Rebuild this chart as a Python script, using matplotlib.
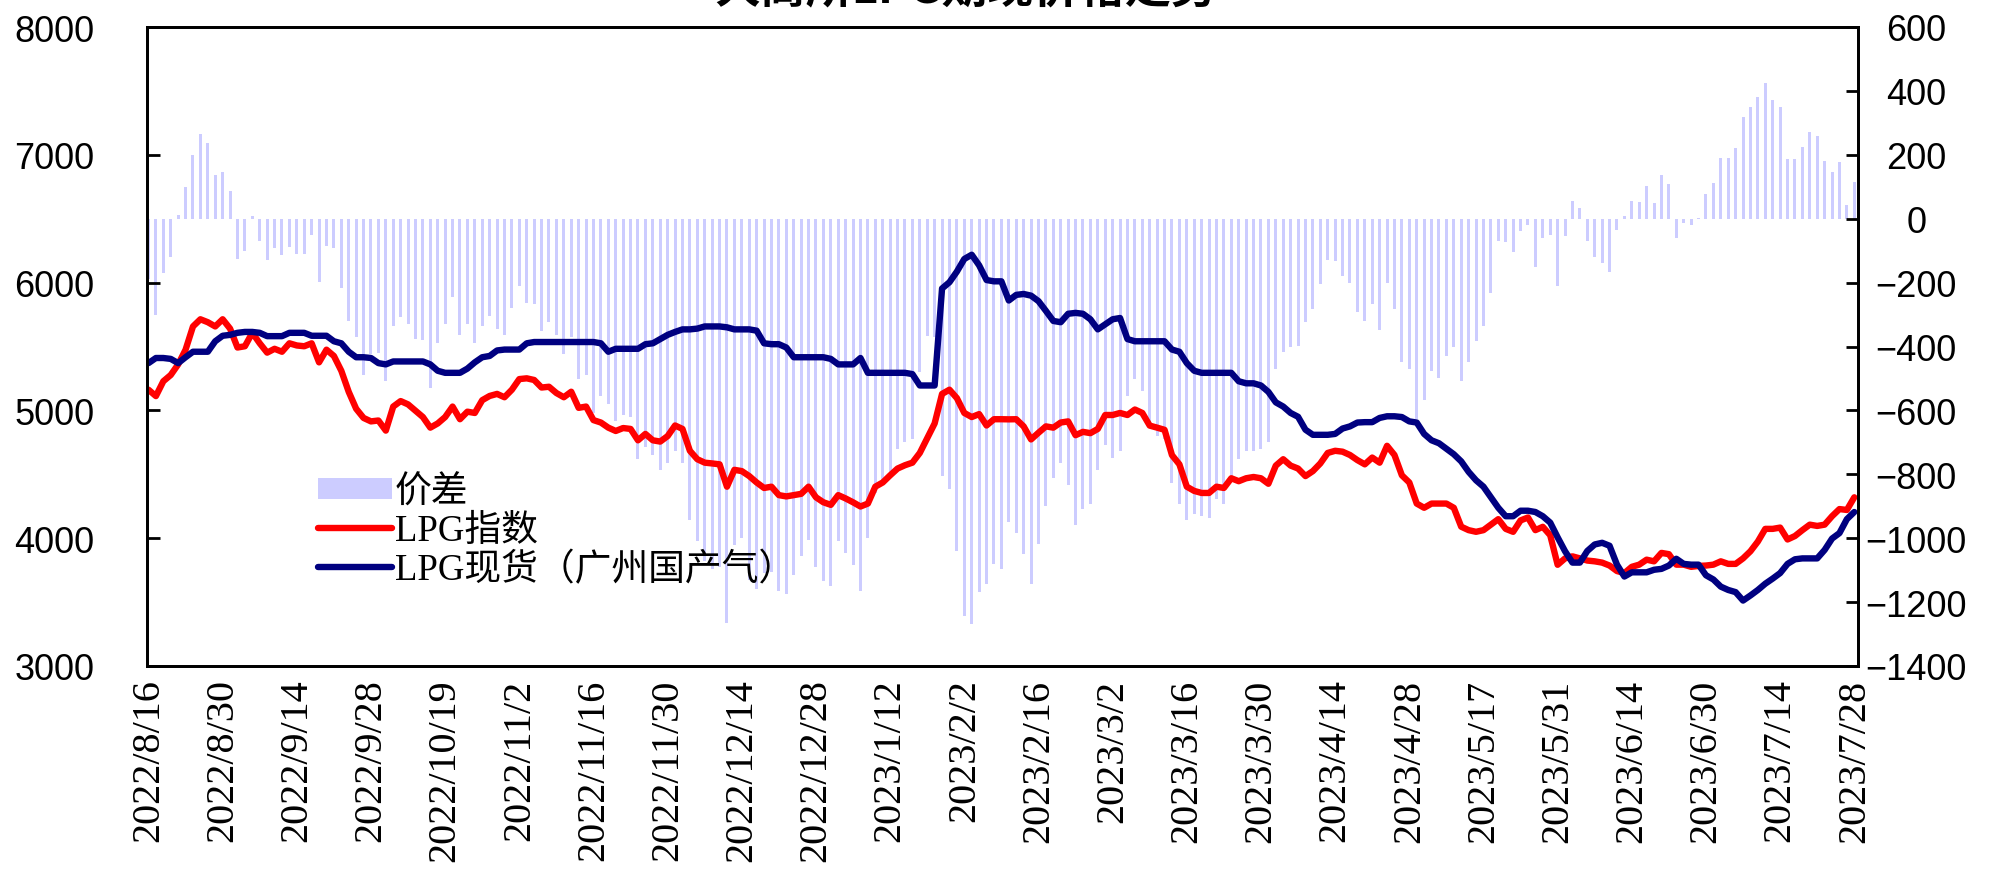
import numpy as np
import matplotlib
matplotlib.use('Agg')
import matplotlib.pyplot as plt
from matplotlib.font_manager import FontProperties

# trading-day series, 2022/8/16 .. 2023/7/28 (one value per day)
lpg_index = [
    5162, 5112, 5228, 5277, 5360, 5475, 5657, 5713, 5690, 5657,
    5713, 5640, 5492, 5502, 5607, 5525, 5452, 5482, 5459, 5525,
    5508, 5502, 5525, 5376, 5475, 5426, 5310, 5145, 5013, 4941,
    4914, 4921, 4842, 5030, 5073, 5047, 4997, 4948, 4865, 4898,
    4948, 5030, 4931, 4990, 4980, 5080, 5113, 5129, 5103, 5162,
    5245, 5251, 5238, 5179, 5185, 5136, 5103, 5146, 5020, 5030,
    4924, 4905, 4865, 4839, 4862, 4855, 4766, 4816, 4766, 4756,
    4799, 4882, 4855, 4684, 4618, 4591, 4585, 4578, 4403, 4535,
    4525, 4486, 4436, 4393, 4403, 4337, 4327, 4337, 4347, 4403,
    4320, 4281, 4261, 4337, 4311, 4281, 4248, 4271, 4403, 4436,
    4492, 4545, 4571, 4591, 4667, 4783, 4898, 5129, 5162, 5096,
    4980, 4948, 4971, 4882, 4931, 4931, 4930, 4931, 4875, 4773,
    4825, 4875, 4865, 4905, 4914, 4806, 4832, 4822, 4855, 4964,
    4964, 4980, 4964, 5007, 4980, 4881, 4865, 4848, 4650, 4578,
    4403, 4370, 4354, 4354, 4403, 4393, 4469, 4446, 4469, 4479,
    4469, 4426, 4568, 4618, 4568, 4545, 4486, 4525, 4585, 4667,
    4684, 4677, 4651, 4611, 4578, 4631, 4591, 4723, 4651, 4492,
    4436, 4271, 4238, 4271, 4271, 4271, 4238, 4090, 4063, 4050,
    4063, 4106, 4149, 4073, 4050, 4139, 4162, 4063, 4089, 4023,
    3792, 3842, 3858, 3842, 3825, 3819, 3809, 3786, 3743, 3727,
    3776, 3793, 3832, 3819, 3885, 3875, 3793, 3793, 3776, 3783,
    3786, 3793, 3819, 3799, 3799, 3842, 3898, 3974, 4073, 4073,
    4083, 3990, 4017, 4063, 4106, 4096, 4106, 4172, 4228, 4221,
    4320,
]

lpg_spot = [
    5370, 5410, 5410, 5403, 5370, 5416, 5459, 5459, 5459, 5541,
    5584, 5591, 5607, 5614, 5614, 5607, 5581, 5581, 5581, 5607,
    5607, 5607, 5584, 5584, 5584, 5541, 5525, 5459, 5416, 5416,
    5410, 5370, 5360, 5383, 5383, 5383, 5383, 5383, 5360, 5310,
    5294, 5294, 5294, 5327, 5376, 5416, 5426, 5469, 5476, 5476,
    5476, 5525, 5535, 5535, 5535, 5535, 5535, 5535, 5535, 5535,
    5535, 5525, 5459, 5482, 5482, 5482, 5482, 5518, 5525, 5558,
    5591, 5614, 5634, 5634, 5640, 5657, 5657, 5657, 5650, 5634,
    5634, 5634, 5624, 5525, 5518, 5518, 5492, 5416, 5416, 5416,
    5416, 5416, 5403, 5360, 5360, 5360, 5410, 5294, 5294, 5294,
    5294, 5294, 5294, 5284, 5195, 5195, 5195, 5954, 6003, 6086,
    6185, 6218, 6135, 6020, 6010, 6010, 5860, 5904, 5911, 5898,
    5855, 5779, 5700, 5690, 5756, 5763, 5756, 5713, 5634, 5673,
    5713, 5723, 5558, 5541, 5541, 5541, 5541, 5541, 5476, 5459,
    5370, 5310, 5294, 5294, 5294, 5294, 5294, 5228, 5212, 5212,
    5195, 5145, 5063, 5030, 4980, 4950, 4849, 4809, 4809, 4809,
    4816, 4858, 4875, 4905, 4908, 4908, 4941, 4954, 4954, 4948,
    4914, 4905, 4816, 4766, 4743, 4700, 4657, 4601, 4519, 4453,
    4403, 4320, 4238, 4172, 4172, 4215, 4215, 4205, 4172, 4122,
    4007, 3898, 3809, 3809, 3900, 3951, 3964, 3941, 3793, 3700,
    3733, 3733, 3733, 3753, 3760, 3786, 3839, 3799, 3793, 3793,
    3710, 3677, 3621, 3595, 3578, 3512, 3552, 3595, 3644, 3684,
    3727, 3799, 3835, 3842, 3842, 3842, 3908, 3997, 4040, 4149,
    4205,
]

spread = [
    -190, -300, -170, -120, 12, 98, 200, 266, 237, 137,
    146, 88, -126, -100, 10, -70, -130, -93, -115, -90,
    -109, -109, -50, -199, -84, -93, -218, -320, -370, -489,
    -423, -420, -509, -337, -307, -331, -377, -380, -530, -390,
    -330, -245, -364, -330, -390, -337, -304, -344, -364, -278,
    -212, -265, -267, -350, -324, -364, -423, -370, -502, -489,
    -608, -555, -581, -634, -614, -621, -753, -713, -740, -786,
    -766, -727, -766, -944, -1010, -1070, -1096, -1090, -1265, -1020,
    -1000, -1130, -1160, -1110, -1105, -1165, -1175, -1115, -1055, -1005,
    -1090, -1135, -1150, -1010, -1045, -1085, -1165, -1000, -860, -820,
    -795, -720, -700, -690, -480, -366, -370, -804, -846, -1039,
    -1243, -1269, -1169, -1143, -1081, -1096, -950, -984, -1050, -1142,
    -1017, -898, -813, -766, -832, -958, -909, -892, -786, -707,
    -750, -727, -555, -502, -539, -650, -680, -690, -826, -892,
    -944, -925, -931, -938, -878, -892, -820, -753, -727, -727,
    -720, -700, -469, -416, -403, -397, -324, -284, -205, -130,
    -133, -179, -202, -291, -320, -267, -347, -202, -284, -449,
    -469, -628, -568, -476, -500, -430, -401, -509, -447, -383,
    -337, -232, -69, -73, -104, -40, -20, -152, -60, -51,
    -212, -54, 56, 32, -69, -119, -139, -168, -36, 10,
    56, 52, 101, 48, 137, 108, -60, -14, -20, 2,
    76, 112, 191, 191, 220, 319, 349, 380, 424, 373,
    349, 187, 187, 224, 270, 259, 182, 147, 176, 42,
    116,
]

tick_labels = [
    '2022/8/16', '2022/8/30', '2022/9/14', '2022/9/28', '2022/10/19',
    '2022/11/2', '2022/11/16', '2022/11/30', '2022/12/14', '2022/12/28',
    '2023/1/12', '2023/2/2', '2023/2/16', '2023/3/2', '2023/3/16',
    '2023/3/30', '2023/4/14', '2023/4/28', '2023/5/17', '2023/5/31',
    '2023/6/14', '2023/6/30', '2023/7/14', '2023/7/28',
]
tick_step = 10

assert len(lpg_index) == len(lpg_spot) == len(spread)

W, H = 2008, 870
fig = plt.figure(figsize=(W / 100, H / 100), dpi=100)
left, right, top, bottom = 147, 1858, 28, 667
ax = fig.add_axes([left / W, 1 - bottom / H, (right - left) / W, (bottom - top) / H])
ax2 = ax.twinx()

x = np.arange(len(lpg_index))

# spread bars on the right axis, drawn behind the lines
ax2.bar(x, spread, width=0.4, color='#CCCCFF', label='价差')
ax2.set_ylim(-1400, 600)
ax2.set_yticks(np.arange(-1400, 601, 200))

ax.plot(x, lpg_index, color='#FF0000', lw=4.6, label='LPG指数', solid_capstyle='round')
ax.plot(x, lpg_spot, color='#000080', lw=4.6, label='LPG现货（广州国产气）', solid_capstyle='round')
ax.set_ylim(3000, 8000)
ax.set_yticks(np.arange(3000, 8001, 1000))
ax.set_xlim(-0.2, len(x) - 1 + 0.5)

ax.set_zorder(ax2.get_zorder() + 1)
ax.patch.set_visible(False)

ax.set_xticks(np.arange(0, len(x), tick_step))
ax.set_xticklabels(tick_labels, rotation=90, family='Liberation Serif', fontsize=29)
ax.tick_params(axis='x', length=0, pad=9)

ax.tick_params(axis='y', direction='in', length=9, width=2, pad=38,
               labelsize=26)
for t in ax.get_yticklabels():
    t.set_family('Liberation Sans')
ax2.tick_params(axis='y', direction='in', length=9, width=2, pad=42,
                labelsize=26)
for t in ax2.get_yticklabels():
    t.set_family('Liberation Sans')
    t.set_horizontalalignment('center')

for a in (ax, ax2):
    for s in a.spines.values():
        s.set_linewidth(2)
        s.set_color('black')

# legend without frame, on the lower left of the plot
h1, l1 = ax2.get_legend_handles_labels()
h2, l2 = ax.get_legend_handles_labels()
fig.legend(h1 + h2, l1 + l2, loc='center left', bbox_to_anchor=(318 / W, 1 - 532 / H),
           frameon=False, borderpad=0, borderaxespad=0, handlelength=2.0,
           handleheight=0.5, handletextpad=0.08, labelspacing=0.1,
           prop=FontProperties(family=['Liberation Serif', 'Noto Sans CJK SC'], size=26.5))

# title runs off the top edge, as in the source image
fig.text(966 / W, 1 - 2.5 / H, '大商所LPG期现价格走势', ha='center', va='baseline',
         fontsize=33, fontweight='bold', family=['Noto Sans CJK SC', 'DejaVu Sans'])

fig.savefig('out.png', dpi=100)
